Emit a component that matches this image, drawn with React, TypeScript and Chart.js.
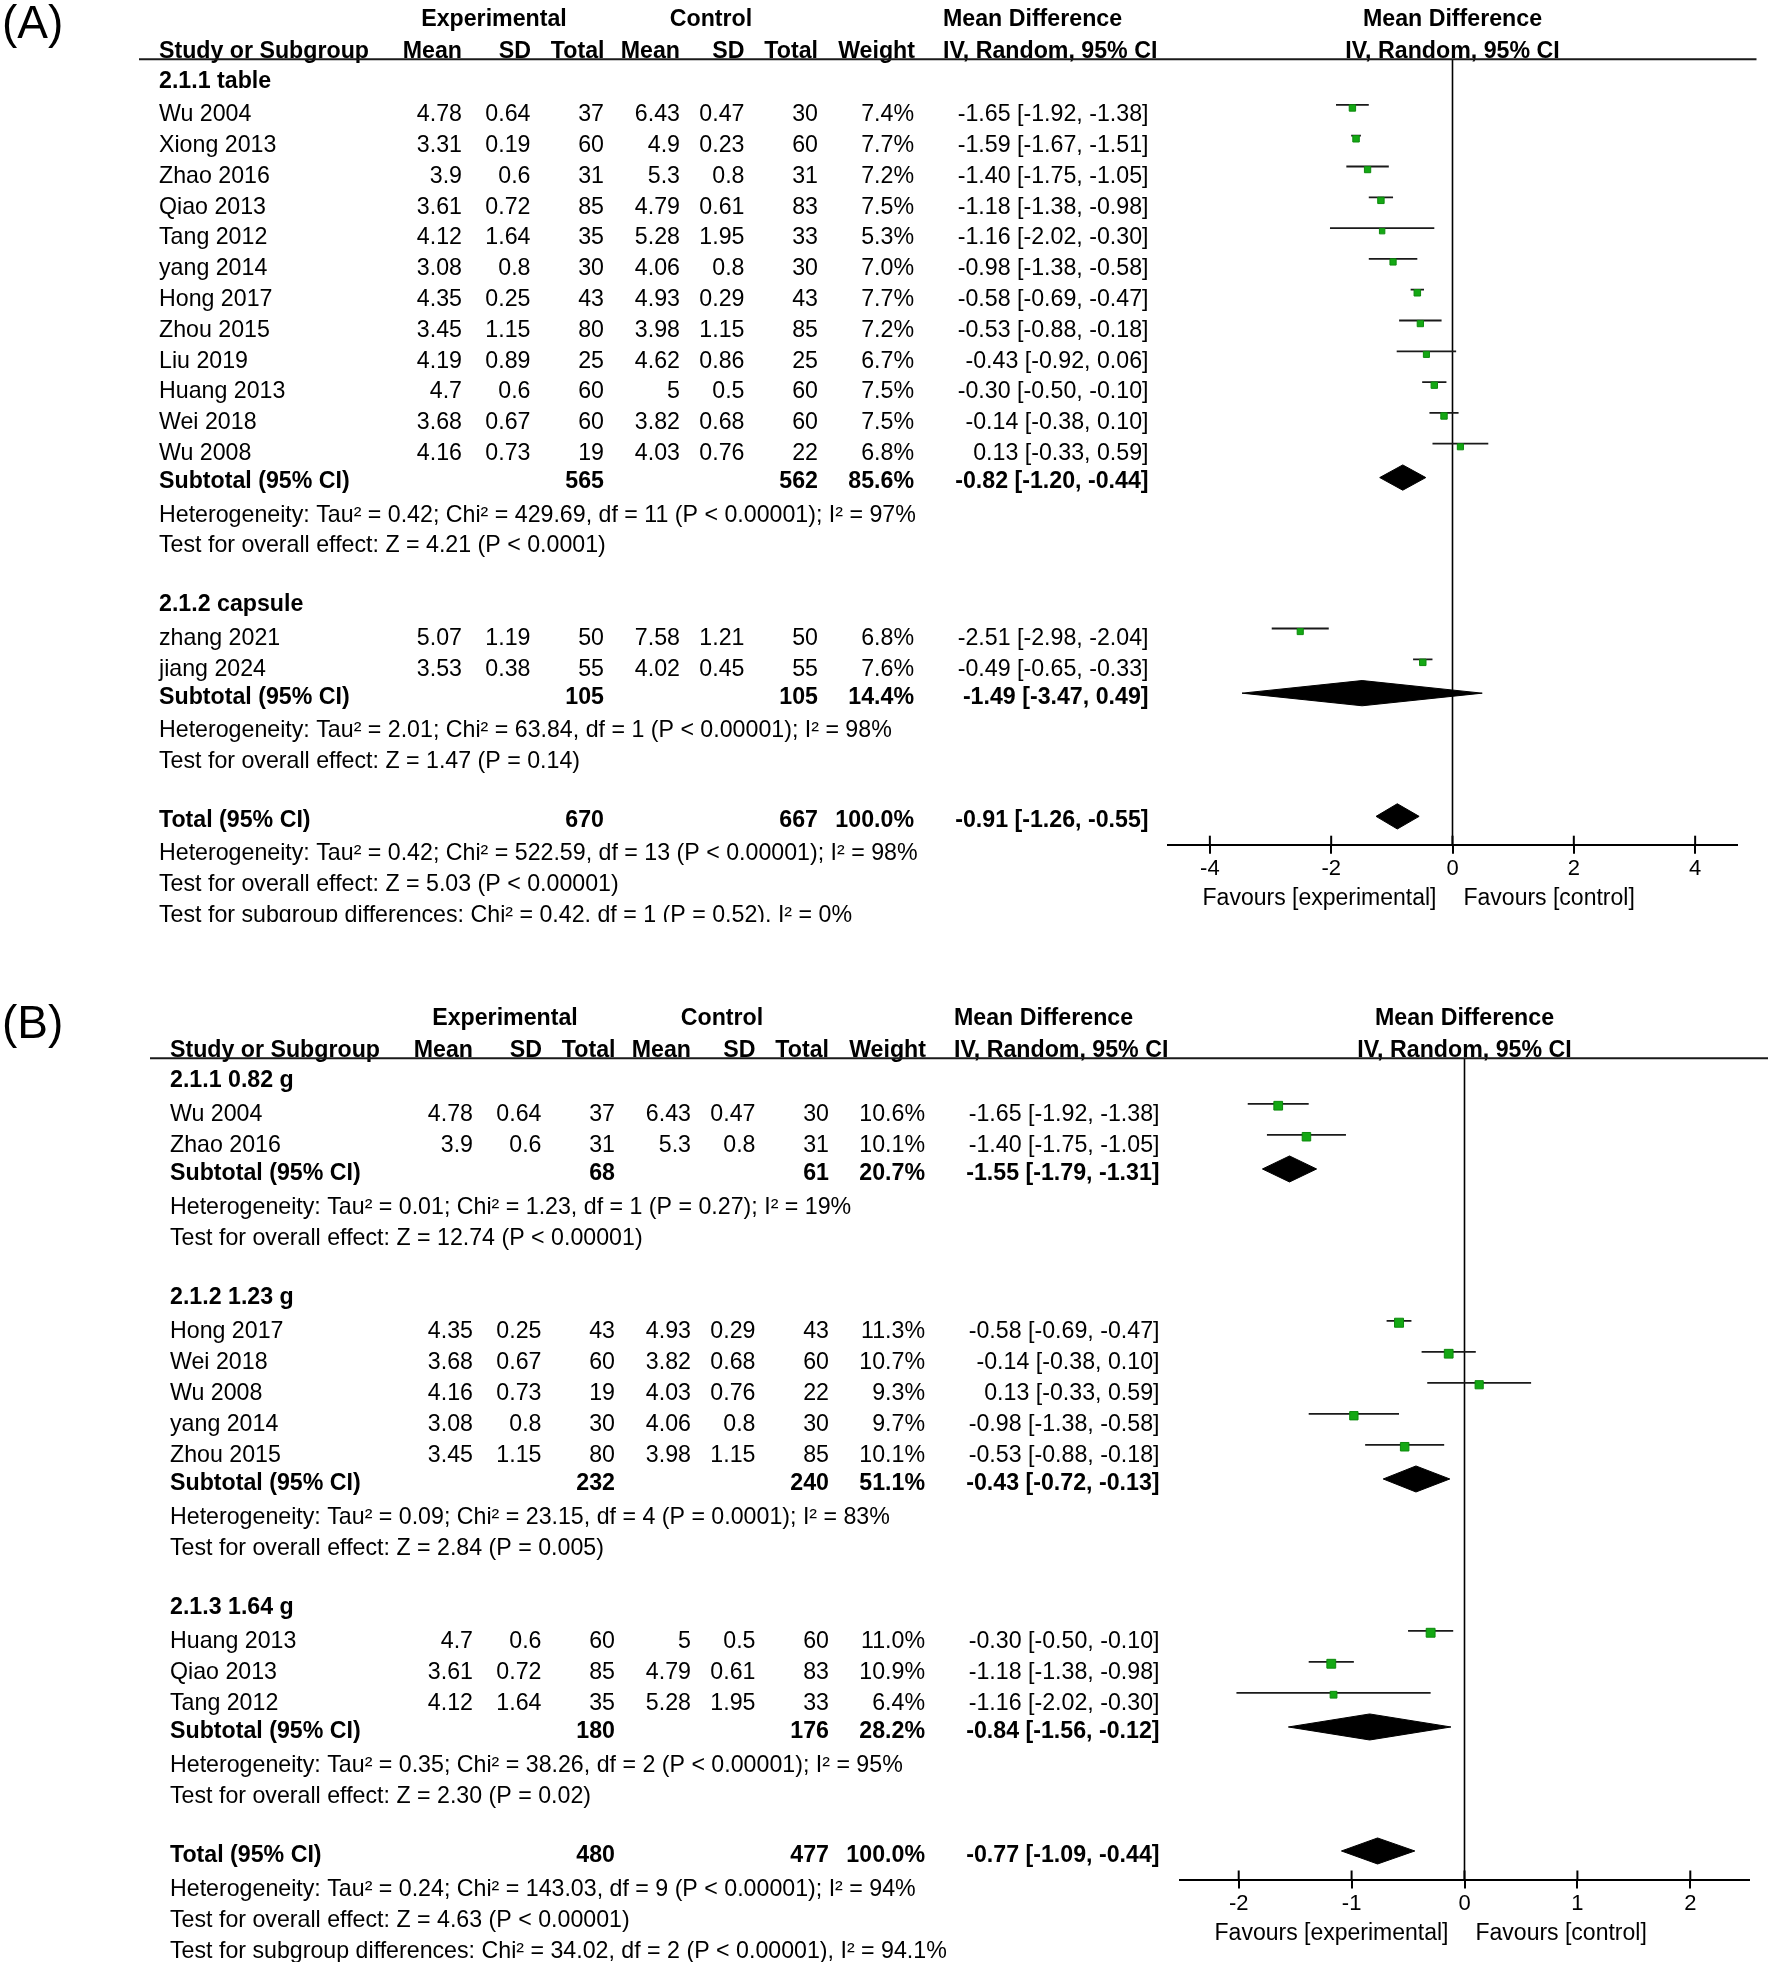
import React, { useEffect, useRef } from 'react';
import { Chart, registerables } from 'chart.js';

Chart.register(...registerables);

// ---------------- Panel A data ----------------
const aGroupNames = ['2.1.1 table', '2.1.2 capsule'];
const aGroupSizes = [12, 2];
const aStudies = ['Wu 2004', 'Xiong 2013', 'Zhao 2016', 'Qiao 2013', 'Tang 2012', 'yang 2014', 'Hong 2017', 'Zhou 2015', 'Liu 2019', 'Huang 2013', 'Wei 2018', 'Wu 2008', 'zhang 2021', 'jiang 2024'];
const aExpMean = [4.78, 3.31, 3.9, 3.61, 4.12, 3.08, 4.35, 3.45, 4.19, 4.7, 3.68, 4.16, 5.07, 3.53];
const aExpSD = [0.64, 0.19, 0.6, 0.72, 1.64, 0.8, 0.25, 1.15, 0.89, 0.6, 0.67, 0.73, 1.19, 0.38];
const aExpN = [37, 60, 31, 85, 35, 30, 43, 80, 25, 60, 60, 19, 50, 55];
const aCtlMean = [6.43, 4.9, 5.3, 4.79, 5.28, 4.06, 4.93, 3.98, 4.62, 5, 3.82, 4.03, 7.58, 4.02];
const aCtlSD = [0.47, 0.23, 0.8, 0.61, 1.95, 0.8, 0.29, 1.15, 0.86, 0.5, 0.68, 0.76, 1.21, 0.45];
const aCtlN = [30, 60, 31, 83, 33, 30, 43, 85, 25, 60, 60, 22, 50, 55];
const aWeight = [7.4, 7.7, 7.2, 7.5, 5.3, 7.0, 7.7, 7.2, 6.7, 7.5, 7.5, 6.8, 6.8, 7.6];
const aMD = [-1.65, -1.59, -1.40, -1.18, -1.16, -0.98, -0.58, -0.53, -0.43, -0.30, -0.14, 0.13, -2.51, -0.49];
const aLow = [-1.92, -1.67, -1.75, -1.38, -2.02, -1.38, -0.69, -0.88, -0.92, -0.50, -0.38, -0.33, -2.98, -0.65];
const aHigh = [-1.38, -1.51, -1.05, -0.98, -0.30, -0.58, -0.47, -0.18, 0.06, -0.10, 0.10, 0.59, -2.04, -0.33];
const aSubExpN = [565, 105];
const aSubCtlN = [562, 105];
const aSubWeight = [85.6, 14.4];
const aSubMD = [-0.82, -1.49];
const aSubLow = [-1.20, -3.47];
const aSubHigh = [-0.44, 0.49];
const aSubHet = [
  'Heterogeneity: Tau² = 0.42; Chi² = 429.69, df = 11 (P < 0.00001); I² = 97%',
  'Heterogeneity: Tau² = 2.01; Chi² = 63.84, df = 1 (P < 0.00001); I² = 98%',
];
const aSubTest = ['Test for overall effect: Z = 4.21 (P < 0.0001)', 'Test for overall effect: Z = 1.47 (P = 0.14)'];
const aTotalN = [670, 667];
const aTotalWeight = 100.0;
const aTotalCI = [-0.91, -1.26, -0.55];
const aTotalNotes = [
  'Heterogeneity: Tau² = 0.42; Chi² = 522.59, df = 13 (P < 0.00001); I² = 98%',
  'Test for overall effect: Z = 5.03 (P < 0.00001)',
  'Test for subgroup differences: Chi² = 0.42, df = 1 (P = 0.52), I² = 0%',
];
const aTicks = [-4, -2, 0, 2, 4];

// ---------------- Panel B data ----------------
const bGroupNames = ['2.1.1 0.82 g', '2.1.2 1.23 g', '2.1.3 1.64 g'];
const bGroupSizes = [2, 5, 3];
const bStudies = ['Wu 2004', 'Zhao 2016', 'Hong 2017', 'Wei 2018', 'Wu 2008', 'yang 2014', 'Zhou 2015', 'Huang 2013', 'Qiao 2013', 'Tang 2012'];
const bExpMean = [4.78, 3.9, 4.35, 3.68, 4.16, 3.08, 3.45, 4.7, 3.61, 4.12];
const bExpSD = [0.64, 0.6, 0.25, 0.67, 0.73, 0.8, 1.15, 0.6, 0.72, 1.64];
const bExpN = [37, 31, 43, 60, 19, 30, 80, 60, 85, 35];
const bCtlMean = [6.43, 5.3, 4.93, 3.82, 4.03, 4.06, 3.98, 5, 4.79, 5.28];
const bCtlSD = [0.47, 0.8, 0.29, 0.68, 0.76, 0.8, 1.15, 0.5, 0.61, 1.95];
const bCtlN = [30, 31, 43, 60, 22, 30, 85, 60, 83, 33];
const bWeight = [10.6, 10.1, 11.3, 10.7, 9.3, 9.7, 10.1, 11.0, 10.9, 6.4];
const bMD = [-1.65, -1.40, -0.58, -0.14, 0.13, -0.98, -0.53, -0.30, -1.18, -1.16];
const bLow = [-1.92, -1.75, -0.69, -0.38, -0.33, -1.38, -0.88, -0.50, -1.38, -2.02];
const bHigh = [-1.38, -1.05, -0.47, 0.10, 0.59, -0.58, -0.18, -0.10, -0.98, -0.30];
const bSubExpN = [68, 232, 180];
const bSubCtlN = [61, 240, 176];
const bSubWeight = [20.7, 51.1, 28.2];
const bSubMD = [-1.55, -0.43, -0.84];
const bSubLow = [-1.79, -0.72, -1.56];
const bSubHigh = [-1.31, -0.13, -0.12];
const bSubHet = [
  'Heterogeneity: Tau² = 0.01; Chi² = 1.23, df = 1 (P = 0.27); I² = 19%',
  'Heterogeneity: Tau² = 0.09; Chi² = 23.15, df = 4 (P = 0.0001); I² = 83%',
  'Heterogeneity: Tau² = 0.35; Chi² = 38.26, df = 2 (P < 0.00001); I² = 95%',
];
const bSubTest = [
  'Test for overall effect: Z = 12.74 (P < 0.00001)',
  'Test for overall effect: Z = 2.84 (P = 0.005)',
  'Test for overall effect: Z = 2.30 (P = 0.02)',
];
const bTotalN = [480, 477];
const bTotalWeight = 100.0;
const bTotalCI = [-0.77, -1.09, -0.44];
const bTotalNotes = [
  'Heterogeneity: Tau² = 0.24; Chi² = 143.03, df = 9 (P < 0.00001); I² = 94%',
  'Test for overall effect: Z = 4.63 (P < 0.00001)',
  'Test for subgroup differences: Chi² = 34.02, df = 2 (P < 0.00001), I² = 94.1%',
];
const bTicks = [-2, -1, 0, 1, 2];

// ---------------- Panel definitions ----------------
const panelA = {
  label: '(A)',
  groupNames: aGroupNames, groupSizes: aGroupSizes, studies: aStudies,
  expMean: aExpMean, expSD: aExpSD, expN: aExpN, ctlMean: aCtlMean, ctlSD: aCtlSD, ctlN: aCtlN,
  weight: aWeight, md: aMD, low: aLow, high: aHigh,
  subExpN: aSubExpN, subCtlN: aSubCtlN, subWeight: aSubWeight, subMD: aSubMD, subLow: aSubLow, subHigh: aSubHigh,
  subHet: aSubHet, subTest: aSubTest,
  totalN: aTotalN, totalWeight: aTotalWeight, totalCI: aTotalCI, totalNotes: aTotalNotes,
  ticks: aTicks, xMin: -4.69, xMax: 4.69,
};
const panelB = {
  label: '(B)',
  groupNames: bGroupNames, groupSizes: bGroupSizes, studies: bStudies,
  expMean: bExpMean, expSD: bExpSD, expN: bExpN, ctlMean: bCtlMean, ctlSD: bCtlSD, ctlN: bCtlN,
  weight: bWeight, md: bMD, low: bLow, high: bHigh,
  subExpN: bSubExpN, subCtlN: bSubCtlN, subWeight: bSubWeight, subMD: bSubMD, subLow: bSubLow, subHigh: bSubHigh,
  subHet: bSubHet, subTest: bSubTest,
  totalN: bTotalN, totalWeight: bTotalWeight, totalCI: bTotalCI, totalNotes: bTotalNotes,
  ticks: bTicks, xMin: -2.52, xMax: 2.52,
};

// layout (positions / sizes / styles)
const layoutA = {
  height: 922, dx: 0, top: 59.3, axisY: 844.7, left: 1168, right: 1737, yMin: -0.74, yMax: 24.76,
  lineX0: 139, lineX1: 1756.5, sqMax: 6.5, lineOff: -0.26, sqOff: -0.16, diaOff: -0.16, diaHalf: 0.41,
};
const layoutB = {
  height: 962, dx: 11, top: 58.3, axisY: 879.5, left: 1180, right: 1749, yMin: -0.75, yMax: 25.74,
  lineX0: 150, lineX1: 1768, sqMax: 9, lineOff: -0.28, sqOff: -0.22, diaOff: -0.18, diaHalf: 0.42,
};

const W = 1772;
const FONT = '"Liberation Sans", Arial, sans-serif';
const FS = 23.2;
const BOLD_SHIFT = -0.09;
const GREEN = '#14a814';
const GREEN_DARK = '#0d8a0d';

const f2 = (v: number) => v.toFixed(2);
const ciText = (m: number, l: number, h: number) => `${f2(m)} [${f2(l)}, ${f2(h)}]`;

function buildRows(p: any) {
  const rows: any[] = [];
  let r = 0;
  let s = 0;
  p.groupNames.forEach((g: string, gi: number) => {
    rows.push({ kind: 'group', text: g, r: r++ });
    for (let k = 0; k < p.groupSizes[gi]; k++) rows.push({ kind: 'study', i: s++, r: r++ });
    rows.push({ kind: 'sub', i: gi, r: r++ });
    rows.push({ kind: 'note', text: p.subHet[gi], r: r++ });
    rows.push({ kind: 'note', text: p.subTest[gi], r: r++ });
    r++;
  });
  rows.push({ kind: 'total', r: r++ });
  p.totalNotes.forEach((t: string) => rows.push({ kind: 'note', text: t, r: r++ }));
  return rows;
}

function makeConfig(p: any, L: any) {
  const rows = buildRows(p);
  const maxW = Math.max(...p.weight);

  const ciData: any[] = [];
  const sqData: any[] = [];
  const sqRadius: number[] = [];
  const diamonds: any[] = [];

  rows.forEach((row) => {
    if (row.kind === 'study') {
      const i = row.i;
      const yl = row.r + L.lineOff;
      ciData.push({ x: p.low[i], y: yl }, { x: p.high[i], y: yl }, { x: p.high[i], y: null });
      sqData.push({ x: p.md[i], y: row.r + L.sqOff });
      sqRadius.push((L.sqMax * Math.sqrt(p.weight[i] / maxW)) / Math.SQRT2);
    } else if (row.kind === 'sub' || row.kind === 'total') {
      const m = row.kind === 'sub' ? p.subMD[row.i] : p.totalCI[0];
      const lo = row.kind === 'sub' ? p.subLow[row.i] : p.totalCI[1];
      const hi = row.kind === 'sub' ? p.subHigh[row.i] : p.totalCI[2];
      const yc = row.r + L.diaOff;
      diamonds.push([
        { x: lo, y: yc },
        { x: m, y: yc - L.diaHalf },
        { x: hi, y: yc },
        { x: m, y: yc + L.diaHalf },
        { x: lo, y: yc },
      ]);
    }
  });

  const datasets: any[] = [
    {
      type: 'line', data: ciData, borderColor: '#1a1a1a', borderWidth: 1.8, pointRadius: 0,
      spanGaps: false, fill: false, tension: 0, order: 3,
    },
    {
      type: 'line', data: sqData, showLine: false, pointStyle: 'rect', pointRadius: sqRadius,
      pointBackgroundColor: GREEN, pointBorderColor: GREEN_DARK, pointBorderWidth: 1, order: 1,
    },
    ...diamonds.map((d) => ({
      type: 'line', data: d, borderColor: '#000', borderWidth: 1, backgroundColor: '#000',
      fill: 'shape', pointRadius: 0, tension: 0, order: 2,
    })),
  ];

  const plugin = {
    id: 'forestTable',
    beforeDatasetsDraw(chart: any) {
      const ctx = chart.ctx;
      const xs = chart.scales.x;
      const ca = chart.chartArea;
      const x0 = xs.getPixelForValue(0);
      ctx.save();
      ctx.strokeStyle = '#000';
      ctx.lineWidth = 1.6;
      ctx.beginPath();
      ctx.moveTo(x0, ca.top);
      ctx.lineTo(x0, ca.bottom);
      ctx.stroke();
      ctx.restore();
    },
    afterDraw(chart: any) {
      const ctx = chart.ctx;
      const xs = chart.scales.x;
      const ys = chart.scales.y;
      const ca = chart.chartArea;
      const Y = (r: number) => ys.getPixelForValue(r);
      const dx = L.dx;
      const txt = (s: string, x: number, y: number, align: string, bold = false, size = FS) => {
        ctx.font = `${bold ? 'bold ' : ''}${size}px ${FONT}`;
        ctx.textAlign = align;
        ctx.textBaseline = 'alphabetic';
        ctx.fillStyle = '#000';
        ctx.fillText(s, x, y + 0.36 * size);
      };
      ctx.save();

      // panel label
      ctx.font = `46px ${FONT}`;
      ctx.textAlign = 'left';
      ctx.textBaseline = 'alphabetic';
      ctx.fillStyle = '#000';
      ctx.fillText(p.label, 2, 38);

      const C = {
        name: 159 + dx, eMean: 462 + dx, eSD: 530.5 + dx, eN: 604 + dx,
        cMean: 680 + dx, cSD: 744.5 + dx, cN: 818 + dx, wt: 914 + dx, ci: 1148.5 + dx, md: 943 + dx,
      };
      const plotC = (ca.left + ca.right) / 2;

      // headers
      const h1 = Y(-2.1);
      const h2 = Y(-1.06);
      txt('Experimental', 494 + dx, h1, 'center', true);
      txt('Control', 711 + dx, h1, 'center', true);
      txt('Mean Difference', C.md, h1, 'left', true);
      txt('Mean Difference', plotC, h1, 'center', true);
      txt('Study or Subgroup', C.name, h2, 'left', true);
      txt('Mean', C.eMean, h2, 'right', true);
      txt('SD', C.eSD + 0.5, h2, 'right', true);
      txt('Total', C.eN + 0.5, h2, 'right', true);
      txt('Mean', C.cMean, h2, 'right', true);
      txt('SD', C.cSD, h2, 'right', true);
      txt('Total', C.cN, h2, 'right', true);
      txt('Weight', C.wt + 1, h2, 'right', true);
      txt('IV, Random, 95% CI', C.md, h2, 'left', true);
      txt('IV, Random, 95% CI', plotC, h2, 'center', true);

      // header rule
      ctx.strokeStyle = '#1a1a1a';
      ctx.lineWidth = 2;
      ctx.beginPath();
      ctx.moveTo(L.lineX0, ca.top);
      ctx.lineTo(L.lineX1, ca.top);
      ctx.stroke();

      // rows
      rows.forEach((row) => {
        const y = Y(row.r);
        const yb = Y(row.r + BOLD_SHIFT);
        if (row.kind === 'group') {
          txt(row.text, C.name, yb, 'left', true);
        } else if (row.kind === 'study') {
          const i = row.i;
          txt(p.studies[i], C.name, y, 'left');
          txt(String(p.expMean[i]), C.eMean, y, 'right');
          txt(String(p.expSD[i]), C.eSD, y, 'right');
          txt(String(p.expN[i]), C.eN, y, 'right');
          txt(String(p.ctlMean[i]), C.cMean, y, 'right');
          txt(String(p.ctlSD[i]), C.cSD, y, 'right');
          txt(String(p.ctlN[i]), C.cN, y, 'right');
          txt(p.weight[i].toFixed(1) + '%', C.wt, y, 'right');
          txt(ciText(p.md[i], p.low[i], p.high[i]), C.ci, y, 'right');
        } else if (row.kind === 'sub') {
          const i = row.i;
          txt('Subtotal (95% CI)', C.name, yb, 'left', true);
          txt(String(p.subExpN[i]), C.eN, yb, 'right', true);
          txt(String(p.subCtlN[i]), C.cN, yb, 'right', true);
          txt(p.subWeight[i].toFixed(1) + '%', C.wt, yb, 'right', true);
          txt(ciText(p.subMD[i], p.subLow[i], p.subHigh[i]), C.ci, yb, 'right', true);
        } else if (row.kind === 'total') {
          txt('Total (95% CI)', C.name, yb, 'left', true);
          txt(String(p.totalN[0]), C.eN, yb, 'right', true);
          txt(String(p.totalN[1]), C.cN, yb, 'right', true);
          txt(p.totalWeight.toFixed(1) + '%', C.wt, yb, 'right', true);
          txt(ciText(p.totalCI[0], p.totalCI[1], p.totalCI[2]), C.ci, yb, 'right', true);
        } else {
          txt(row.text, C.name, y, 'left');
        }
      });

      // tick marks above the axis
      ctx.strokeStyle = '#000';
      ctx.lineWidth = 2;
      xs.ticks.forEach((t: any) => {
        const x = xs.getPixelForValue(t.value);
        ctx.beginPath();
        ctx.moveTo(x, ca.bottom - 9);
        ctx.lineTo(x, ca.bottom);
        ctx.stroke();
      });

      // favours labels
      const x0 = xs.getPixelForValue(0);
      const fy = ca.bottom + 52;
      txt('Favours [experimental]', x0 - 16, fy, 'right', false, 23);
      txt('Favours [control]', x0 + 11, fy, 'left', false, 23);

      ctx.restore();
    },
  };

  return {
    type: 'line',
    data: { datasets },
    plugins: [plugin],
    options: {
      animation: false,
      responsive: false,
      maintainAspectRatio: false,
      devicePixelRatio: 1,
      events: [],
      layout: {
        padding: { left: L.left, right: W - L.right, top: L.top, bottom: L.height - L.axisY - 40 },
      },
      plugins: { legend: { display: false }, tooltip: { enabled: false }, title: { display: false } },
      scales: {
        x: {
          type: 'linear',
          position: 'bottom',
          min: p.xMin,
          max: p.xMax,
          afterBuildTicks: (ax: any) => {
            ax.ticks = p.ticks.map((v: number) => ({ value: v }));
          },
          afterFit: (ax: any) => {
            ax.height = 40;
          },
          grid: { display: true, drawOnChartArea: false, drawTicks: true, tickLength: 9, color: '#000', lineWidth: 2 },
          border: { display: true, color: '#000', width: 2 },
          ticks: {
            color: '#000', font: { family: FONT, size: 22 }, padding: 2, maxRotation: 0, autoSkip: false,
            callback: (v: any) => String(v),
          },
        },
        y: { type: 'linear', display: false, min: L.yMin, max: L.yMax, reverse: true },
      },
    },
  };
}

function ForestPanel({ panel, layout, top }: any) {
  const ref = useRef<HTMLCanvasElement | null>(null);
  useEffect(() => {
    if (!ref.current) return;
    const chart = new Chart(ref.current, makeConfig(panel, layout) as any);
    return () => chart.destroy();
  }, [panel, layout]);
  return (
    <canvas
      ref={ref}
      width={W}
      height={layout.height}
      style={{ position: 'absolute', left: 0, top, width: W, height: layout.height, display: 'block' }}
    />
  );
}

export default function App() {
  return (
    <div style={{ position: 'absolute', left: 0, top: 0, width: W, height: 1962, background: '#fff', overflow: 'hidden' }}>
      <ForestPanel panel={panelA} layout={layoutA} top={0} />
      <ForestPanel panel={panelB} layout={layoutB} top={1000} />
    </div>
  );
}
